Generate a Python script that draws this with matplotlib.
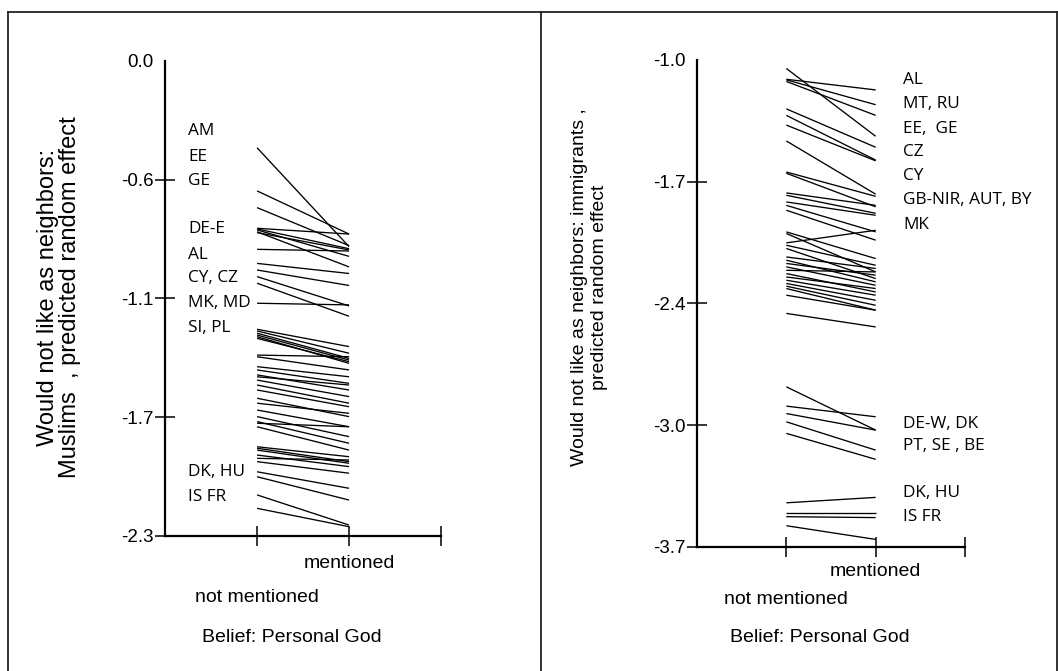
import numpy as np
import matplotlib
matplotlib.use("Agg")
import matplotlib.pyplot as plt
from matplotlib.lines import Line2D

# ---------------------------------------------------------------
# Data (predicted random effect per country)
# ---------------------------------------------------------------
categories = ["not mentioned", "mentioned"]

# Left panel: Muslims as neighbours
left_not_mentioned = [-0.420, -0.629, -0.710, -0.810, -0.813, -0.818, -0.827, -0.831, -0.912, -0.980,
                      -1.012, -1.044, -1.076, -1.173,
                      -1.299, -1.307, -1.318, -1.327, -1.335, -1.343, -1.424, -1.432, -1.480, -1.496,
                      -1.520, -1.529, -1.545, -1.569, -1.593, -1.633, -1.657, -1.690, -1.722, -1.746,
                      -1.754, -1.771, -1.868, -1.875, -1.884, -1.908, -1.924, -1.940, -1.989, -2.013,
                      -2.101, -2.166]
left_mentioned = [-0.899, -0.838, -0.894, -0.838, -0.909, -0.946, -0.997, -0.915, -0.920, -1.029,
                  -1.087, -1.186, -1.236, -1.181,
                  -1.383, -1.415, -1.440, -1.448, -1.464, -1.456, -1.432, -1.496, -1.529, -1.561,
                  -1.593, -1.569, -1.625, -1.657, -1.674, -1.722, -1.706, -1.771, -1.819, -1.851,
                  -1.771, -1.884, -1.916, -1.940, -1.948, -1.964, -1.932, -1.996, -2.069, -2.126,
                  -2.247, -2.255]
left_labels = ["AM", "EE", "GE", "DE-E", "AL", "CY, CZ", "MK, MD", "SI, PL", "DK, HU", "IS FR"]
left_label_y = [-0.340, -0.463, -0.582, -0.815, -0.937, -1.051, -1.170, -1.291, -1.988, -2.113]
left_ticks = [0.0, -0.575, -1.15, -1.725, -2.3]
left_ticklabels = ["0.0", "-0.6", "-1.1", "-1.7", "-2.3"]

# Right panel: immigrants as neighbours
right_not_mentioned = [-1.047, -1.107, -1.110, -1.119, -1.271, -1.307, -1.361, -1.449, -1.621, -1.628,
                       -1.737, -1.750, -1.787, -1.806, -1.833,
                       -1.953, -1.962, -2.014, -2.027, -2.045, -2.092, -2.110, -2.128, -2.147, -2.166,
                       -2.184, -2.203, -2.221, -2.239, -2.254, -2.267, -2.304, -2.405,
                       -2.812, -2.919, -2.960, -3.006, -3.070, -3.455, -3.510, -3.532, -3.582]
right_mentioned = [-1.423, -1.166, -1.248, -1.307, -1.484, -1.555, -1.559, -1.744, -1.756, -1.814,
                   -1.806, -1.850, -1.861, -1.953, -1.999,
                   -2.101, -2.175, -1.944, -2.138, -2.212, -2.156, -2.230, -2.193, -2.249, -2.175,
                   -2.286, -2.267, -2.304, -2.332, -2.360, -2.387, -2.387, -2.480,
                   -3.052, -2.978, -3.052, -3.163, -3.214, -3.425, -3.510, -3.537, -3.658]
right_labels = ["AL", "MT, RU", "EE,  GE", "CZ", "CY", "GB-NIR, AUT, BY", "MK",
                "DE-W, DK", "PT, SE , BE", "DK, HU", "IS FR"]
right_label_y = [-1.111, -1.243, -1.383, -1.512, -1.645, -1.778, -1.914,
                 -3.020, -3.140, -3.400, -3.535]
right_ticks = [-1.0, -1.675, -2.35, -3.025, -3.7]
right_ticklabels = ["-1.0", "-1.7", "-2.4", "-3.0", "-3.7"]

AXFONT = "Liberation Sans"
LBLFONT = "Open Sans"


def slope_panel(ax, y0, y1, ticks, ticklabels, labels, label_y, label_x,
                cat_offsets, xlabel_offset):
    # one line per country between the two categories
    for a, b in zip(y0, y1):
        ax.plot([1, 2], [a, b], color="black", lw=0.95, solid_capstyle="butt")

    ax.set_xlim(0, 3)
    ax.set_ylim(ticks[-1], ticks[0])
    for side in ["top", "right"]:
        ax.spines[side].set_visible(False)
    for side in ["left", "bottom"]:
        ax.spines[side].set_linewidth(1.6)

    ax.set_yticks(ticks)
    ax.set_yticklabels(ticklabels, fontfamily=AXFONT, fontsize=13.5)
    ax.set_xticks([1, 2, 3])
    ax.set_xticklabels([])
    ax.tick_params(axis="both", direction="inout", length=14, width=1.1, pad=1)
    # no tick drawn at the top of the y axis
    ax.yaxis.get_major_ticks()[0].tick1line.set_visible(False)

    # staggered category labels under the axis ("mentioned" sits higher)
    for xi, (cat, off) in enumerate(zip(categories, cat_offsets), start=1):
        ax.annotate(cat, xy=(xi, 0), xycoords=("data", "axes fraction"),
                    xytext=(0, -off), textcoords="offset points",
                    ha="center", va="center", fontfamily=AXFONT, fontsize=14)
    ax.annotate("Belief: Personal God", xy=(1.38, 0), xycoords=("data", "axes fraction"),
                xytext=(0, -xlabel_offset), textcoords="offset points",
                ha="center", va="center", fontfamily=AXFONT, fontsize=14)

    # country labels
    for txt, yy in zip(labels, label_y):
        ax.text(label_x, yy, txt, ha="left", va="center",
                fontfamily=LBLFONT, fontsize=12.4, color="black")


fig = plt.figure(figsize=(10.58, 6.71), dpi=100)
fig.patch.set_facecolor("white")

ax1 = fig.add_axes([0.1560, 0.2012, 0.2609, 0.7079])
slope_panel(ax1, left_not_mentioned, left_mentioned, left_ticks, left_ticklabels,
            left_labels, left_label_y, 0.25, (44, 19.5), 73)

ax2 = fig.add_axes([0.6588, 0.1848, 0.2533, 0.7258])
slope_panel(ax2, right_not_mentioned, right_mentioned, right_ticks, right_ticklabels,
            right_labels, right_label_y, 2.31, (38, 18), 65)

# y axis titles
fig.text(0.0558, 0.557, "Would not like as neighbors:\nMuslims  , predicted random effect",
         rotation=90, ha="center", va="center", multialignment="center",
         fontfamily=AXFONT, fontsize=17, linespacing=0.98)
fig.text(0.5572, 0.572, "Would not like as neighbors: immigrants ,\npredicted random effect",
         rotation=90, ha="center", va="center", multialignment="center",
         fontfamily=AXFONT, fontsize=14, linespacing=1.2)

# panel frames
frame = dict(color="#222222", lw=1.3, transform=fig.transFigure)
fig.add_artist(Line2D([0.0076, 0.999], [0.982, 0.982], **frame))
fig.add_artist(Line2D([0.0076, 0.0076], [0.0, 0.982], **frame))
fig.add_artist(Line2D([0.5113, 0.5113], [0.0, 0.982], **frame))
fig.add_artist(Line2D([0.999, 0.999], [0.0, 0.982], **frame))

fig.savefig("out.png", dpi=100)
